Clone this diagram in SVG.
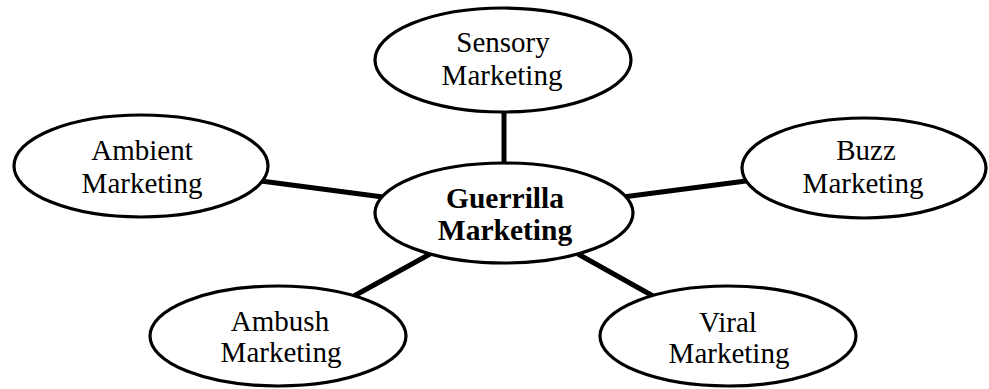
<svg xmlns="http://www.w3.org/2000/svg" width="989" height="389" viewBox="0 0 989 389">
  <style>
    .node ellipse { fill: #ffffff; stroke: #000000; stroke-width: 3.2; }
    .node text { font-family: "Liberation Serif", "Times New Roman", serif; font-size: 29px; fill: #000000; text-anchor: middle; }
    #hub text { font-weight: bold; font-size: 29.5px; }
    #links line { stroke: #000000; stroke-width: 5; stroke-linecap: butt; }
  </style>
  <rect width="989" height="389" fill="#ffffff"/>

  <!-- spokes from the hub to each tactic -->
  <g id="links">
    <line x1="504" y1="111" x2="504" y2="164"/>
    <line x1="261" y1="181" x2="383" y2="197"/>
    <line x1="623" y1="197" x2="746" y2="181"/>
    <line x1="354" y1="296" x2="430" y2="254"/>
    <line x1="578" y1="254" x2="653" y2="296"/>
  </g>

  <g id="hub" class="node">
    <ellipse cx="504" cy="213" rx="129" ry="50"/>
    <text x="505" y="208">Guerrilla</text>
    <text x="505" y="240">Marketing</text>
  </g>

  <g id="sensory" class="node">
    <ellipse cx="503" cy="60" rx="128" ry="52"/>
    <text x="503" y="52">Sensory</text>
    <text x="502" y="85">Marketing</text>
  </g>

  <g id="ambient" class="node">
    <ellipse cx="141" cy="166" rx="127" ry="51"/>
    <text x="142" y="160">Ambient</text>
    <text x="142" y="193">Marketing</text>
  </g>

  <g id="buzz" class="node">
    <ellipse cx="864" cy="168" rx="122" ry="50"/>
    <text x="866" y="160">Buzz</text>
    <text x="863" y="193">Marketing</text>
  </g>

  <g id="ambush" class="node">
    <ellipse cx="278" cy="336" rx="128" ry="50"/>
    <text x="280" y="331">Ambush</text>
    <text x="281" y="362">Marketing</text>
  </g>

  <g id="viral" class="node">
    <ellipse cx="728" cy="336" rx="128" ry="50"/>
    <text x="728" y="332">Viral</text>
    <text x="729" y="363">Marketing</text>
  </g>
</svg>
